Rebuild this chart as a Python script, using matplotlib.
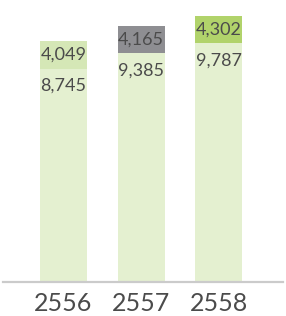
import matplotlib
matplotlib.use("Agg")
import matplotlib.pyplot as plt

# data
years = ["2556", "2557", "2558"]
base_values = [8745, 9385, 9787]
top_values = [4049, 4165, 4302]
top_colors = ["#d5e7b6", "#8e8e92", "#b1d36b"]

base_color = "#e4f0d0"
text_color = "#4b4b4b"
box_h = 1120  # top label box is drawn at a fixed height, not to scale

plt.rcParams["font.family"] = ["Lato", "DejaVu Sans"]

fig = plt.figure(figsize=(2.86, 3.16), dpi=100)
ax = fig.add_axes([3 / 286, 1 - 282 / 316, 280 / 286, 282 / 316])

x = range(len(years))
ax.bar(x, base_values, width=0.606, color=base_color)
ax.bar(x, [box_h] * len(years), bottom=base_values, width=0.606, color=top_colors)

for i in x:
    ax.text(i, base_values[i] - 700, f"{base_values[i]:,}", ha="center", va="center",
            fontsize=13, color=text_color)
    ax.text(i, base_values[i] + box_h / 2, f"{top_values[i]:,}", ha="center", va="center",
            fontsize=13, color=text_color)

ax.set_xlim(-0.78, 2.83)
ax.set_ylim(0, 11560)
ax.set_xticks(list(x))
ax.set_xticklabels(years, fontsize=18, color=text_color)
ax.tick_params(axis="x", length=0, pad=7)
ax.set_yticks([])
for s in ["top", "left", "right"]:
    ax.spines[s].set_visible(False)
ax.spines["bottom"].set_color("#cbcbcb")
ax.spines["bottom"].set_linewidth(1.6)

fig.savefig("out.png", dpi=100)
